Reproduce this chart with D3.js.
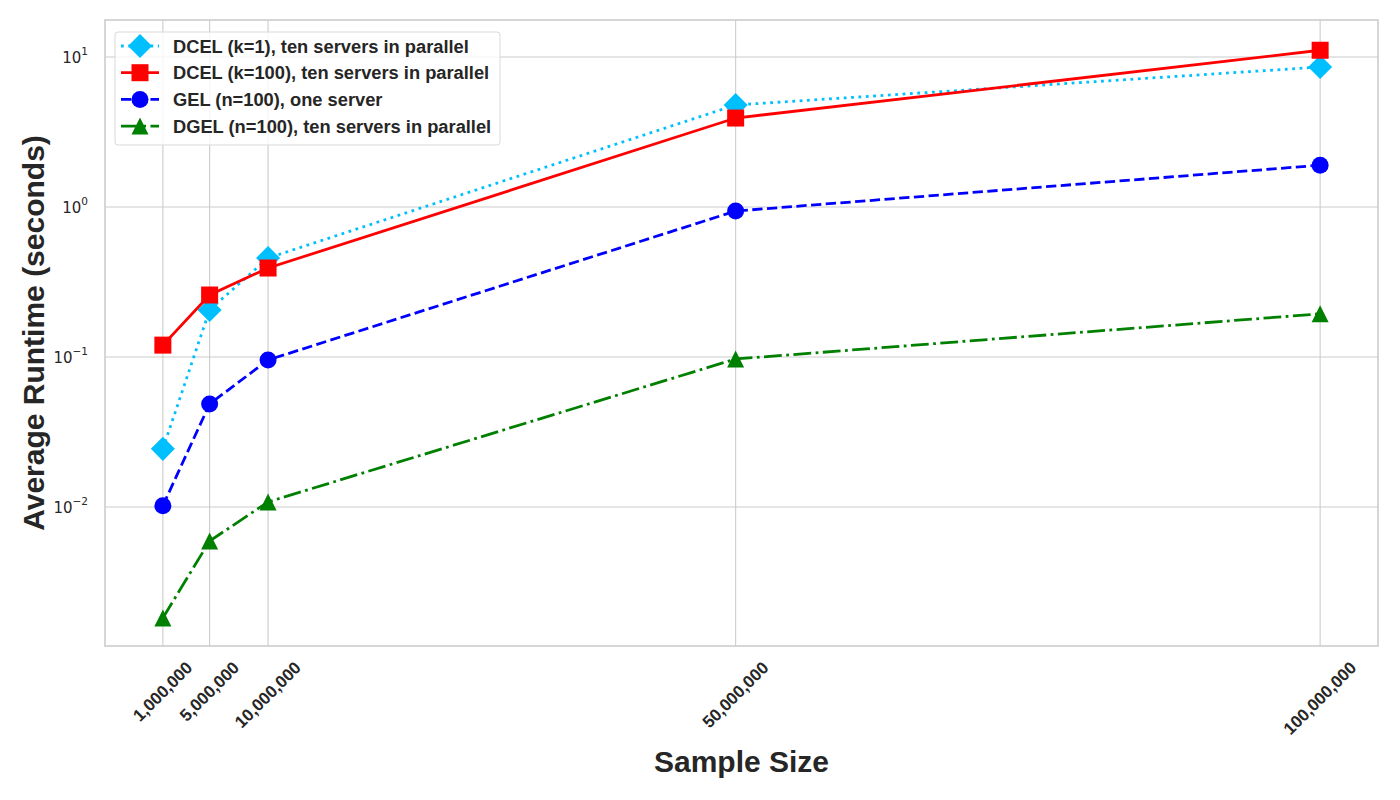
<!DOCTYPE html>
<html><head><meta charset="utf-8">
<script src="https://d3js.org/d3.v7.min.js"></script>
<style>body{margin:0;background:#fff;} svg{display:block;font-family:"Liberation Sans",Arial,sans-serif;}</style>
</head><body>
<svg id="c" width="1400" height="800"></svg>
<script>
const sampleSizes = [1000000, 5000000, 10000000, 50000000, 100000000];
const xTickLabels = ["1,000,000", "5,000,000", "10,000,000", "50,000,000", "100,000,000"];
const dcelK1 = [0.0244, 0.206, 0.457, 4.79, 8.58];
const dcelK100 = [0.12, 0.259, 0.392, 3.92, 11.1];
const gel = [0.0102, 0.0486, 0.0955, 0.94, 1.9];
const dgel = [0.00182, 0.00593, 0.0108, 0.097, 0.194];
const yTicks = [0.01, 0.1, 1, 10];
const yTickExps = ["−2", "−1", "0", "1"];
const seriesNames = ["DCEL (k=1), ten servers in parallel", "DCEL (k=100), ten servers in parallel", "GEL (n=100), one server", "DGEL (n=100), ten servers in parallel"];

const lw = 2.78;
const series = [
  {name: seriesNames[0], values: dcelK1, color: "#00BFFF", dash: [lw*1, lw*1.65], marker: "diamond"},
  {name: seriesNames[1], values: dcelK100, color: "#FF0000", dash: null, marker: "square"},
  {name: seriesNames[2], values: gel, color: "#0000FF", dash: [lw*3.7, lw*1.6], marker: "circle"},
  {name: seriesNames[3], values: dgel, color: "#008000", dash: [lw*6.4, lw*1.6, lw*1, lw*1.6], marker: "triangle"}
];

const svg = d3.select("#c");
const L = 105, R = 1378, T = 20, B = 646;
const xr = 99e6 * 0.05;
const x = d3.scaleLinear().domain([1e6 - xr, 100e6 + xr]).range([L, R]);
const y = d3.scaleLog().domain([Math.pow(10, -2.927), Math.pow(10, 1.247)]).range([B, T]);

const grid = svg.append("g");
sampleSizes.forEach(v => grid.append("line").attr("x1", x(v)).attr("x2", x(v)).attr("y1", T).attr("y2", B).attr("stroke", "#cccccc").attr("stroke-width", 1.1));
yTicks.forEach(v => grid.append("line").attr("x1", L).attr("x2", R).attr("y1", y(v)).attr("y2", y(v)).attr("stroke", "#cccccc").attr("stroke-width", 1.1));
svg.append("rect").attr("x", L).attr("y", T).attr("width", R - L).attr("height", B - T).attr("fill", "none").attr("stroke", "#cccccc").attr("stroke-width", 1.6);

// y tick labels
yTicks.forEach((v, i) => {
  const t = svg.append("text").attr("x", 88).attr("y", y(v) + 6).attr("text-anchor", "end").attr("font-size", 15).attr("fill", "#262626").attr("font-family", "DejaVu Sans");
  t.append("tspan").text("10");
  t.append("tspan").attr("dy", -8).attr("font-size", 10.5).text(yTickExps[i]);
});

// x tick labels
sampleSizes.forEach((v, i) => {
  const fs = 17;
  const t = svg.append("text").attr("font-size", fs).attr("font-weight", "bold").attr("fill", "#262626")
    .attr("text-anchor", "middle").attr("dominant-baseline", "central").text(xTickLabels[i]);
  const w = t.node().getComputedTextLength();
  const bh = (w + fs) / Math.SQRT2;
  const cy = B + 13 + bh / 2;
  t.attr("transform", `translate(${x(v)},${cy}) rotate(-45)`);
});

// axis labels
svg.append("text").attr("x", (L + R) / 2).attr("y", 772).attr("text-anchor", "middle").attr("font-size", 30).attr("font-weight", "bold").attr("fill", "#262626").text("Sample Size");
svg.append("text").attr("transform", `translate(44,${(T + B) / 2}) rotate(-90)`).attr("text-anchor", "middle").attr("font-size", 30).attr("font-weight", "bold").attr("fill", "#262626").text("Average Runtime (seconds)");

function drawMarker(g, type, cx, cy, color) {
  const s = 17;
  if (type === "square") g.append("rect").attr("x", cx - s/2).attr("y", cy - s/2).attr("width", s).attr("height", s).attr("fill", color);
  else if (type === "circle") g.append("circle").attr("cx", cx).attr("cy", cy).attr("r", s/2).attr("fill", color);
  else if (type === "diamond") { const d = s / Math.SQRT2; g.append("path").attr("d", `M${cx},${cy-d}L${cx+d},${cy}L${cx},${cy+d}L${cx-d},${cy}Z`).attr("fill", color); }
  else if (type === "triangle") g.append("path").attr("d", `M${cx},${cy-s/2}L${cx+s/2},${cy+s/2}L${cx-s/2},${cy+s/2}Z`).attr("fill", color);
}

const line = d3.line().x((d, i) => x(sampleSizes[i])).y(d => y(d));
series.forEach(s => {
  const g = svg.append("g");
  g.append("path").attr("d", line(s.values)).attr("fill", "none").attr("stroke", s.color).attr("stroke-width", lw)
    .attr("stroke-dasharray", s.dash ? s.dash.join(",") : null);
  s.values.forEach((v, i) => drawMarker(g, s.marker, x(sampleSizes[i]), y(v), s.color));
});

// legend
const lg = svg.append("g");
lg.append("rect").attr("x", 115).attr("y", 32).attr("width", 385).attr("height", 113).attr("rx", 3).attr("fill", "rgba(255,255,255,0.8)").attr("stroke", "#d9d9d9").attr("stroke-width", 1);
series.forEach((s, i) => {
  const ry = 46 + i * 26.7;
  lg.append("line").attr("x1", 121).attr("x2", 159).attr("y1", ry).attr("y2", ry).attr("stroke", s.color).attr("stroke-width", lw).attr("stroke-dasharray", s.dash ? s.dash.join(",") : null);
  drawMarker(lg, s.marker, 140, ry, s.color);
  lg.append("text").attr("x", 173).attr("y", ry + 6.5).attr("font-size", 18.3).attr("font-weight", "bold").attr("fill", "#262626").text(s.name);
});
</script>
</body></html>
